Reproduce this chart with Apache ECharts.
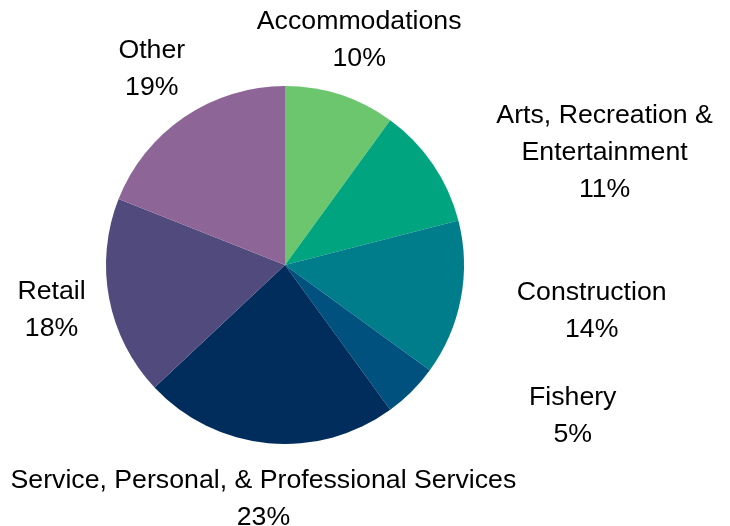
<!DOCTYPE html>
<html>
    <head>
        <meta charset="utf-8">
        <title></title>
        <script src="https://cdn.jsdelivr.net/npm/echarts@6/dist/echarts.min.js"></script>
        <style>
            html, body { margin: 0; padding: 0; background: #fff; }
        </style>
    </head>
    <body>
    <div id="main" style="width: 730px;height:526px;"></div>
    <script type="text/javascript">
        // slices, clockwise from 12 o'clock
        var names = ['Accommodations', 'Arts, Recreation &\nEntertainment', 'Construction', 'Fishery',
                     'Service, Personal, & Professional Services', 'Retail', 'Other']
        var values = [10, 11, 14, 5, 23, 18, 19]
        var colors = ['#6cc66e', '#00a57f', '#007d8b', '#00517e', '#002d5c', '#514a7d', '#8e6597']
        // small hand nudges so the labels sit where the original ones do
        var nudge = [[0, 3], [62, 63], [41, -5], [112, -25], [0, 6], [-8, 2], [2, 3]]

        var cx = 285, cy = 265, R = 179, gap = 12
        var total = values.reduce(function(a, b){ return a + b }, 0)

        // unit vector pointing at the middle of slice i
        var midDir = function(i){
            var before = 0
            for (var k = 0; k < i; k++) before += values[k]
            var a = (before + values[i] / 2) / total * Math.PI * 2
            return [Math.sin(a), -Math.cos(a)]
        }

        // push a w*h box outward until its nearest point is `gap` px past the rim
        var boxCenter = function(dir, w, h){
            var t = R
            while (t < R + 500) {
                var x = dir[0] * t, y = dir[1] * t
                var ex = Math.max(Math.abs(x) - w / 2, 0)
                var ey = Math.max(Math.abs(y) - h / 2, 0)
                if (Math.sqrt(ex * ex + ey * ey) >= R + gap) return [x, y]
                t += 0.5
            }
            return [dir[0] * t, dir[1] * t]
        }

        var data = []
        for (var i = 0; i < names.length; i++) {
            data.push({ name: names[i], value: values[i], itemStyle: { color: colors[i] } })
        }

        var myChart = echarts.init(document.getElementById('main'))
        var option = {
            backgroundColor: '#ffffff',
            animation: false,
            series: [{
                type: 'pie',
                center: [cx, cy],
                radius: R,
                startAngle: 90,
                clockwise: true,
                avoidLabelOverlap: false,
                itemStyle: { borderWidth: 0 },
                label: {
                    show: true,
                    position: 'outside',
                    formatter: '{b}\n{c}%',
                    fontFamily: 'Liberation Sans',
                    fontSize: 26.7,
                    lineHeight: 37,
                    color: '#000',
                    align: 'center'
                },
                labelLine: { show: false },
                emphasis: { disabled: true },
                labelLayout: function(params){
                    var i = params.dataIndex
                    var p = boxCenter(midDir(i), params.labelRect.width, params.labelRect.height)
                    return {
                        x: cx + p[0] + nudge[i][0],
                        y: cy + p[1] + nudge[i][1],
                        align: 'center',
                        verticalAlign: 'middle'
                    }
                },
                data: data
            }]
        }
        myChart.setOption(option)
    </script>
    </body>
</html>
